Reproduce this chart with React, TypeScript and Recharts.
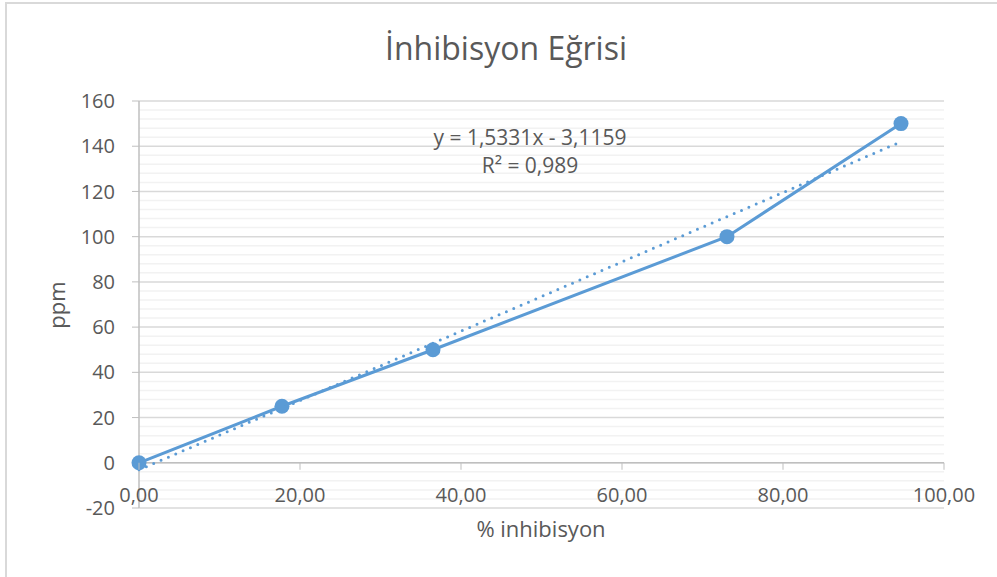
import React from 'react';
import {
  ScatterChart,
  Scatter,
  XAxis,
  YAxis,
  CartesianGrid,
  ReferenceLine,
} from 'recharts';

// % inhibisyon (x) vs ppm (y)
const inhibition = [0, 17.76, 36.52, 73.04, 94.66];
const ppm = [0, 25, 50, 100, 150];

// linear trendline y = 1,5331x - 3,1159 drawn over the data range
const trendX = [0, 94.66];
const trendY = [-3.12, 142.0];

const xTicks = [0, 20, 40, 60, 80, 100];
const yTicks = [-20, 0, 20, 40, 60, 80, 100, 120, 140, 160];
const minorSteps = [4, 8, 12, 16];

const W = 997;
const H = 577;
const MARGIN = { top: 101, right: 53, left: 0, bottom: 0 };
const Y_AXIS_W = 139;
const X_AXIS_H = 69;
const PLOT_H = H - MARGIN.top - X_AXIS_H;
// distance between plot bottom (-20) and the value axis crossing (0)
const ZERO_OFFSET = (PLOT_H * 20) / 180;

const BLUE = '#5B9BD5';
const TEXT = '#595959';
const FONT = '"Open Sans", sans-serif';

const points = inhibition.map((x, i) => ({ x, y: ppm[i] }));
const trend = trendX.map((x, i) => ({ x, y: trendY[i] }));

const minorTicks = yTicks
  .slice(0, -1)
  .flatMap((t) => minorSteps.map((s) => t + s));

const fmtX = (v: number) => v.toFixed(2).replace('.', ',');

const XTick = (props: any) => {
  const { x, y, payload } = props;
  const axisY = y - ZERO_OFFSET;
  return (
    <g>
      <line x1={x} x2={x} y1={axisY} y2={axisY + 7} stroke="#bfbfbf" />
      <text
        x={x}
        y={axisY + 39}
        textAnchor="middle"
        fill={TEXT}
        fontSize={20}
        fontFamily={FONT}
      >
        {fmtX(payload.value)}
      </text>
    </g>
  );
};

const Dot = (props: any) => (
  <circle cx={props.cx} cy={props.cy} r={7.5} fill={BLUE} />
);

export default function App() {
  return (
    <div
      style={{
        position: 'absolute',
        left: 0,
        top: 0,
        width: W,
        height: H,
        overflow: 'hidden',
        background: '#fff',
      }}
    >
      <div
        style={{
          position: 'absolute',
          left: 5,
          top: 2,
          width: W + 40,
          height: H + 40,
          border: '2px solid #d9d9d9',
        }}
      />
      <div style={{ position: 'absolute', left: 0, top: 0 }}>
        <ScatterChart width={W} height={H} margin={MARGIN}>
          {minorTicks.map((v) => (
            <ReferenceLine key={v} y={v} stroke="#f2f2f2" strokeWidth={1.5} />
          ))}
          <CartesianGrid vertical={false} stroke="#d9d9d9" strokeWidth={1.5} />
          <ReferenceLine y={0} stroke="#bfbfbf" strokeWidth={1.5} />
          <XAxis
            type="number"
            dataKey="x"
            domain={[0, 100]}
            ticks={xTicks}
            height={X_AXIS_H}
            axisLine={false}
            tickLine={false}
            tickSize={0}
            tickMargin={0}
            tick={<XTick />}
          />
          <YAxis
            type="number"
            dataKey="y"
            domain={[-20, 160]}
            ticks={yTicks}
            width={Y_AXIS_W}
            axisLine={{ stroke: '#bfbfbf', strokeWidth: 1.5 }}
            tickLine={{ stroke: '#bfbfbf' }}
            tickSize={7}
            tickMargin={17}
            tick={{ fill: TEXT, fontSize: 20, fontFamily: FONT }}
          />
          <Scatter
            data={points}
            line={{ stroke: BLUE, strokeWidth: 3 }}
            lineType="joint"
            shape={<Dot />}
            isAnimationActive={false}
          />
          <Scatter
            data={trend}
            line={{
              stroke: BLUE,
              strokeWidth: 3,
              strokeDasharray: '0 8',
              strokeLinecap: 'round',
            }}
            lineType="joint"
            shape={() => null}
            isAnimationActive={false}
          />
        </ScatterChart>
      </div>
      <svg
        width={W}
        height={H}
        style={{ position: 'absolute', left: 0, top: 0, pointerEvents: 'none' }}
        fontFamily={FONT}
        fill={TEXT}
      >
        <text x={506} y={60} textAnchor="middle" fontSize={32}>
          İnhibisyon Eğrisi
        </text>
        <text x={530} y={145} textAnchor="middle" fontSize={21}>
          y = 1,5331x - 3,1159
        </text>
        <text x={530} y={173} textAnchor="middle" fontSize={21}>
          R² = 0,989
        </text>
        <text x={541} y={537} textAnchor="middle" fontSize={22}>
          % inhibisyon
        </text>
        <text
          x={65}
          y={305}
          textAnchor="middle"
          fontSize={22}
          transform="rotate(-90 65 305)"
        >
          ppm
        </text>
      </svg>
    </div>
  );
}
